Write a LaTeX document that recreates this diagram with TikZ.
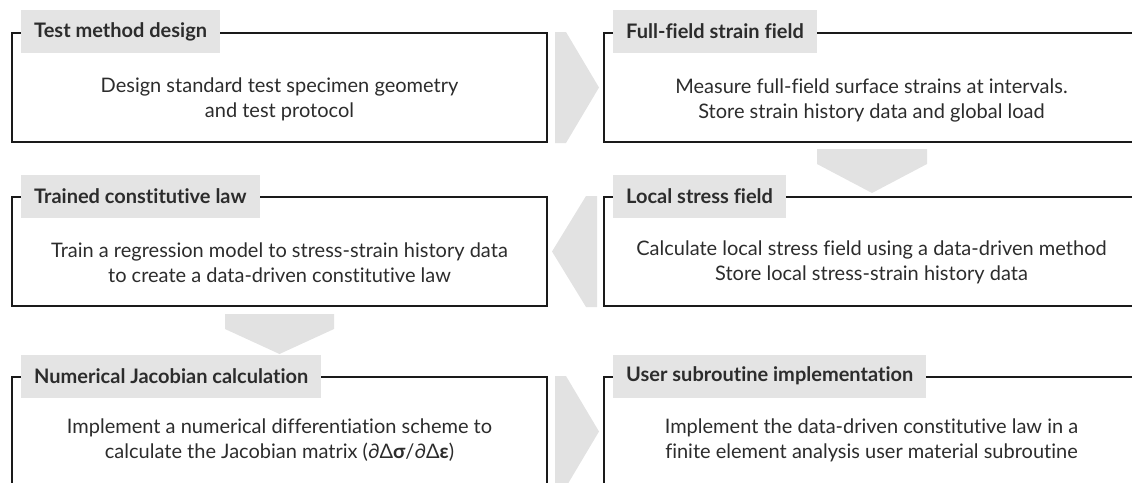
\documentclass[tikz,border=0pt]{standalone}
\usepackage{fontspec}
\setmainfont{Lato}[Ligatures=NoCommon]
\usetikzlibrary{calc}
\definecolor{linec}{HTML}{1A1A1A}
\definecolor{hdr}{HTML}{E4E4E4}
\definecolor{arr}{HTML}{E2E2E2}
\definecolor{txt}{HTML}{2C2C2C}
\tikzset{
  framebox/.style={draw=linec, line width=2pt, minimum width=535pt, minimum height=109pt, inner sep=0pt},
  header/.style={fill=hdr, anchor=west, minimum height=43pt, inner xsep=13pt, inner ysep=0pt, text=txt, font=\fontsize{20}{22}\selectfont\bfseries},
  body/.style={align=center, text=txt, font=\fontsize{20}{25}\selectfont},
  chev/.style={fill=arr, draw=none}
}
\begin{document}
\begin{tikzpicture}[x=1pt,y=-1pt]
\useasboundingbox (0,0) rectangle (1132,482);
% frames
\node[framebox] (b1) at (279.5,87.5) {};
\node[framebox] (b2) at (871.5,87.5) {};
\node[framebox] (b3) at (279.5,251.5) {};
\node[framebox] (b4) at (871.5,251.5) {};
\node[framebox] (b5) at (279.5,431.5) {};
\node[framebox] (b6) at (871.5,431.5) {};
% headers
\node[header] (h1) at (21,31.5) {Test method design};
\node[header] (h2) at (613,31.5) {Full-field strain field};
\node[header] (h3) at (21,196.5) {Trained constitutive law};
\node[header] (h4) at (613,196.5) {Local stress field};
\node[header] (h5) at (21,376) {Numerical Jacobian calculation};
\node[header] (h6) at (613,376) {User subroutine implementation};
% bodies
\node[body] (t1) at (279.5,99.5) {Design standard test specimen geometry\\and test protocol};
\node[body] (t2) at (871.5,100) {Measure full-field surface strains at intervals.\\Store strain history data and global load};
\node[body] (t3) at (279.5,262.5) {Train a regression model to stress-strain history data\\to create a data-driven constitutive law};
\node[body] (t4) at (871.5,262) {Calculate local stress field using a data-driven method\\Store local stress-strain history data};
\node[body] (t5) at (279.5,440) {Implement a numerical differentiation scheme to\\calculate the Jacobian matrix (∂Δ\textbf{σ}/∂Δ\textbf{ε})};
\node[body] (t6) at (871.5,440) {Implement the data-driven constitutive law in a\\finite element analysis user material subroutine};
% flow arrows
\fill[chev] ($(b1.north east)+(7,0)$) -- ($(b1.north east)+(18,0)$) -- ($(b1.east)+(51,0)$) -- ($(b1.south east)+(18,0)$) -- ($(b1.south east)+(7,0)$) -- cycle;
\fill[chev] ($(b2.south)+(-54.5,6)$) -- ($(b2.south)+(55.5,6)$) -- ($(b2.south)+(55.5,21)$) -- ($(b2.south)+(0.5,50)$) -- ($(b2.south)+(-54.5,21)$) -- cycle;
\fill[chev] ($(b4.north west)+(-6,0)$) -- ($(b4.north west)+(-17,0)$) -- ($(b4.west)+(-51,0)$) -- ($(b4.south west)+(-17,0)$) -- ($(b4.south west)+(-6,0)$) -- cycle;
\fill[chev] ($(b3.south)+(-54.5,7)$) -- ($(b3.south)+(54.5,7)$) -- ($(b3.south)+(54.5,22)$) -- ($(b3.south)+(0,47)$) -- ($(b3.south)+(-54.5,22)$) -- cycle;
\fill[chev] ($(b5.north east)+(7,0)$) -- ($(b5.north east)+(18,0)$) -- ($(b5.east)+(51,0)$) -- ($(b5.south east)+(18,0)$) -- ($(b5.south east)+(7,0)$) -- cycle;
\end{tikzpicture}
\end{document}
